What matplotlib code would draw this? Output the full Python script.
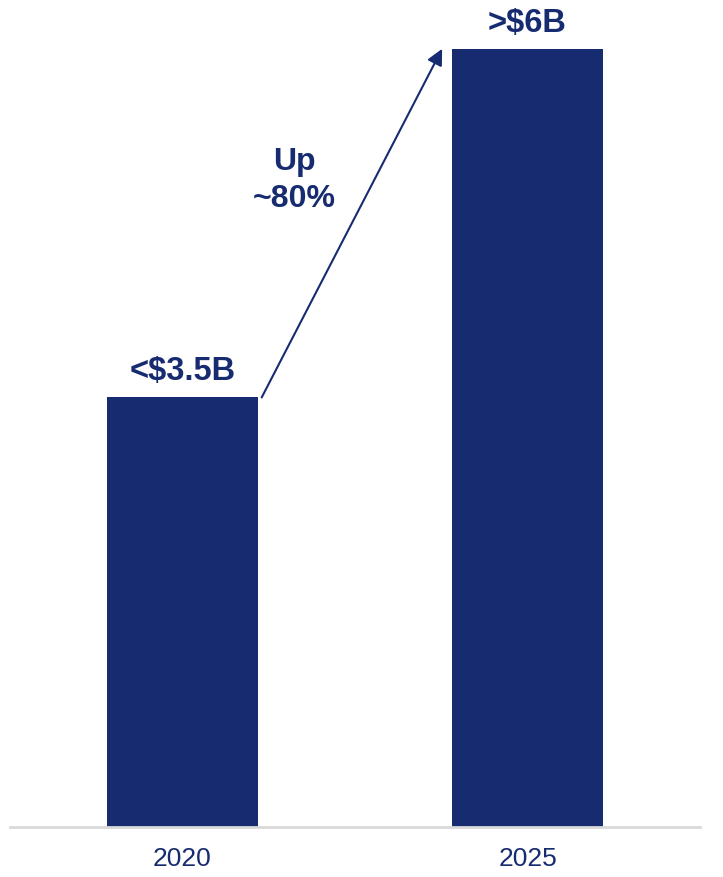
import matplotlib.pyplot as plt

# Market size, $B
years = ["2020", "2025"]
values = [3.45, 6.25]
value_labels = ["<$3.5B", ">$6B"]
growth_label = "Up\n~80%"

NAVY = "#172b70"

plt.rcParams["font.family"] = ["Liberation Sans", "DejaVu Sans"]

fig = plt.figure(figsize=(7.23, 8.78), dpi=100)
ax = fig.add_axes([10 / 723, 50 / 878, 690 / 723, 818 / 878])

x = range(len(years))
width = 0.435
ax.bar(x, values, width=width, color=NAVY, zorder=2)

ax.set_xlim(-0.5, 1.5)
ax.set_ylim(0, 6.57)

for xi, v, lab in zip(x, values, value_labels):
    ax.annotate(lab, (xi, v), xytext=(0, 8), textcoords="offset points",
                ha="center", va="bottom", fontsize=23.5, fontweight="bold",
                color=NAVY)

# growth arrow from the first bar's top to the second bar's top
ax.annotate("", xy=(1 - width / 2 - 0.03, values[1]),
            xytext=(0 + width / 2 + 0.012, values[0]),
            arrowprops=dict(arrowstyle="-|>", color=NAVY, lw=1.5,
                            mutation_scale=24, shrinkA=0, shrinkB=0))
ax.text(0.325, 5.2, growth_label, ha="center", va="center", fontsize=23,
        fontweight="bold", color=NAVY, linespacing=1.3)

for side in ["left", "right", "top"]:
    ax.spines[side].set_visible(False)
ax.spines["bottom"].set_color("#d9d9d9")
ax.spines["bottom"].set_linewidth(2)
ax.set_yticks([])
ax.set_xticks(list(x))
ax.set_xticklabels(years, fontsize=19, color=NAVY)
ax.tick_params(axis="x", length=0, pad=14)

fig.savefig("out.png", dpi=100)
